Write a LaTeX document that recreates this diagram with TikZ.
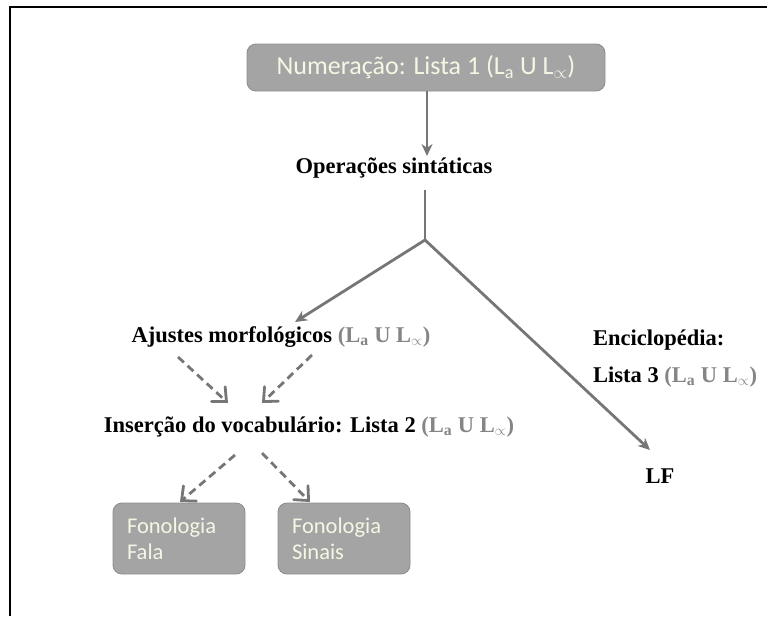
\documentclass[tikz,border=0pt]{standalone}
\usepackage{fontspec}
\setmainfont{Liberation Serif}
\newfontfamily\calfont{Carlito}
\usetikzlibrary{arrows.meta}
\definecolor{boxgray}{HTML}{A4A4A4}
\definecolor{boxedge}{HTML}{8E8E8E}
\definecolor{boxtext}{HTML}{F6F6E4}
\definecolor{linegray}{HTML}{767676}
\definecolor{textgray}{HTML}{858585}
\tikzset{
  gbox/.style={draw=boxedge, line width=0.9pt, fill=boxgray, rounded corners=9pt, text=boxtext, font=\calfont\fontsize{26}{30}\selectfont},
  smallbox/.style={gbox, minimum width=132pt, minimum height=71pt, text width=104pt, align=left, inner sep=0pt, font=\calfont\fontsize{22.5}{26}\selectfont},
  lbl/.style={font=\bfseries\fontsize{22.5}{26}\selectfont, inner sep=2pt},
  solidarr/.style={draw=linegray, line width=2.8pt, -{Stealth[length=12pt,width=11pt]}},
  solidln/.style={draw=linegray, line width=2.8pt},
  dasharr/.style={draw=linegray, line width=2.8pt, dash pattern=on 8pt off 5pt, -{Straight Barb[length=11pt,width=20pt,line width=2.8pt,line cap=round]}},
}
\newcommand{\lset}{{\color{textgray}(L\textsubscript{a} U L\textsubscript{$\propto$})}}
\begin{document}
\begin{tikzpicture}[x=1pt,y=-1pt]
\useasboundingbox (0,0) rectangle (767,616);
\draw[line width=1.6pt] (10,616) -- (10,7) -- (767,7);

\node[gbox, minimum width=358pt, minimum height=47pt, inner sep=0pt] (num) at (426,67.5) {\raisebox{-3pt}{Numeração: Lista 1 (L\textsubscript{a} U L\textsubscript{$\propto$})}};
\node[lbl] (ops) at (394,168) {Operações sintáticas};
\coordinate (j) at (425,240);
\node[lbl] (aj) at (281,337) {Ajustes morfológicos \lset};
\node[lbl] (ins) at (309,427) {Inserção do vocabulário: Lista 2 \lset};
\node[lbl, anchor=west] (enc) at (591,340) {Enciclopédia:};
\node[lbl, anchor=west] (l3) at (591,377) {Lista 3 \lset};
\node[lbl] (lf) at (660,476) {LF};
\node[smallbox] (fala) at (179,538.5) {Fonologia\\Fala};
\node[smallbox] (sinais) at (344,538.5) {Fonologia\\Sinais};

\coordinate (numout) at (427,91);
\coordinate (opsin) at (427,156);
\coordinate (opsout) at (425,190);
\coordinate (ajin) at (295,322);
\coordinate (lfin) at (650,450);
\coordinate (aja) at (178,357);
\coordinate (ajb) at (312,355);
\coordinate (insa) at (228,403);
\coordinate (insb) at (262,403);
\coordinate (insc) at (235,455);
\coordinate (insd) at (262,453);
\coordinate (falain) at (180,502);
\coordinate (sinin) at (310,502);

\draw[solidarr] (numout) -- (opsin);
\draw[solidln] (opsout) -- (j);
\draw[solidarr] (j) -- (ajin);
\draw[solidarr] (j) -- (lfin);
\draw[dasharr] (aja) -- (insa);
\draw[dasharr] (ajb) -- (insb);
\draw[dasharr] (insc) -- (falain);
\draw[dasharr] (insd) -- (sinin);
\end{tikzpicture}
\end{document}
